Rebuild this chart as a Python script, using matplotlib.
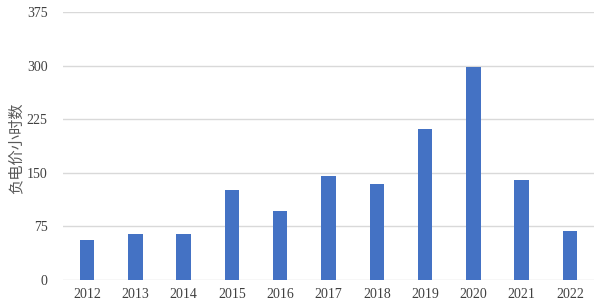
import matplotlib
matplotlib.use("Agg")
import matplotlib.pyplot as plt

years = ["2012", "2013", "2014", "2015", "2016", "2017", "2018", "2019", "2020", "2021", "2022"]
hours = [56, 64, 64, 126, 97, 146, 134, 211, 298, 140, 69]
yticks = [0, 75, 150, 225, 300, 375]

fig = plt.figure(figsize=(5.94, 3.01), dpi=100)
ax = fig.add_axes([63/594, 21/301, 531/594, 268/301])

x = list(range(len(years)))
ax.bar(x, hours, width=0.3, color="#4472C4", zorder=3)
ax.set_xlim(-0.5, len(years) - 0.5)
ax.set_ylim(0, 375)
ax.set_yticks(yticks)
ax.set_xticks(x)
ax.set_xticklabels(years)
ax.yaxis.grid(True, color="#d9d9d9", linewidth=1.0, zorder=0)
for s in ax.spines.values():
    s.set_visible(False)
ax.tick_params(length=0, labelsize=10, colors="#404040")
for lab in ax.get_xticklabels() + ax.get_yticklabels():
    lab.set_family("Liberation Serif")
ax.tick_params(axis="y", pad=11)
ax.tick_params(axis="x", pad=6)
fig.text(16/594, 1 - 148/301, "负电价小时数", family=["Noto Sans CJK SC", "DejaVu Sans"],
         fontsize=11, color="#595959", rotation=90, ha="center", va="center")
fig.savefig("out.png", dpi=100)
